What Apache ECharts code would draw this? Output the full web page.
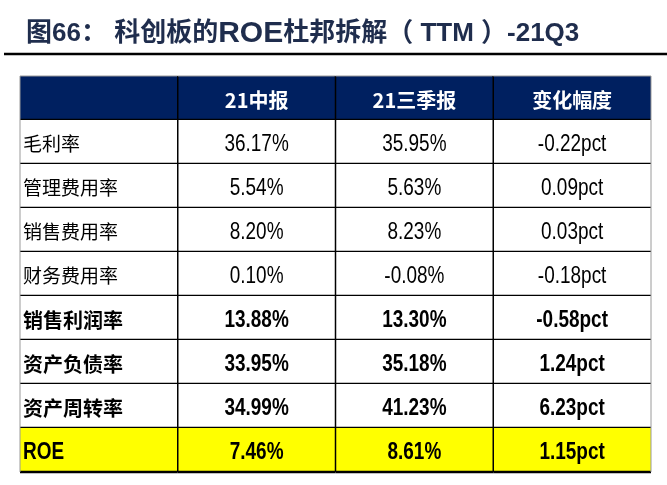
<!DOCTYPE html>
<html>
<head>
<meta charset="utf-8">
<script src="https://cdn.jsdelivr.net/npm/echarts@6/dist/echarts.min.js"></script>
<style>
  html, body { margin: 0; padding: 0; background: #fff; }
  #main { width: 667px; height: 485px; }
</style>
</head>
<body>
<div id="main"></div>
<script>
  // 表头、行名与各列数值
  const columns = ['', '21中报', '21三季报', '变化幅度'];
  const rowNames = ['毛利率', '管理费用率', '销售费用率', '财务费用率', '销售利润率', '资产负债率', '资产周转率', 'ROE'];
  const midReport = [36.17, 5.54, 8.20, 0.10, 13.88, 33.95, 34.99, 7.46];   // 21中报 (%)
  const q3Report = [35.95, 5.63, 8.23, -0.08, 13.30, 35.18, 41.23, 8.61];   // 21三季报 (%)
  const change = [-0.22, 0.09, 0.03, -0.18, -0.58, 1.24, 6.23, 1.15];       // 变化幅度 (pct)
  const boldRows = ['销售利润率', '资产负债率', '资产周转率', 'ROE'];
  const highlightRow = 'ROE';

  const rowCats = ['header'].concat(rowNames);
  const numFont = "'Liberation Sans', Arial, sans-serif";
  const cnFont = "'Noto Sans CJK SC', sans-serif";
  const narrow = 0.79; // 模拟 Arial Narrow
  const titleColor = '#1f2d4d';

  // 组装单元格: [列, 行, 文本]
  const cells = [];
  columns.forEach(function (name, c) {
    cells.push([c, 0, name]);
  });
  rowNames.forEach(function (name, i) {
    const r = i + 1;
    cells.push([0, r, name]);
    cells.push([1, r, midReport[i].toFixed(2) + '%']);
    cells.push([2, r, q3Report[i].toFixed(2) + '%']);
    cells.push([3, r, change[i].toFixed(2) + 'pct']);
  });

  function renderItem(params, api) {
    const c = api.value(0);
    const r = api.value(1);
    const text = cells[params.dataIndex][2];
    const p = api.coord([c, r]);
    const s = api.size([1, 1]);
    const x = p[0] - s[0] / 2, y = p[1] - s[1] / 2, w = s[0], h = s[1];
    const rowName = rowCats[r];
    const isHeader = r === 0;
    const isBold = boldRows.indexOf(rowName) >= 0;
    const isLatin = !isHeader && (c > 0 || /^[A-Za-z]+$/.test(text));

    let fill = '#ffffff';
    if (isHeader) fill = '#002060';
    else if (rowName === highlightRow) fill = '#ffff00';

    const children = [{
      type: 'rect',
      shape: { x: x, y: y, width: w, height: h },
      style: { fill: fill }
    }];

    let font;
    if (isHeader) font = "bold 20px " + cnFont;
    else if (isLatin) font = (isBold ? 'bold ' : '') + '24px ' + numFont;
    else font = isBold ? 'bold 20px ' + cnFont : '19px ' + cnFont;

    const leftAlign = c === 0 && !isHeader;
    children.push({
      type: 'text',
      x: leftAlign ? x + 3 : p[0],
      y: p[1] + 2,
      scaleX: isLatin ? narrow : 1,
      style: {
        text: text,
        x: 0,
        y: 0,
        align: leftAlign ? 'left' : 'center',
        verticalAlign: 'middle',
        fill: isHeader ? '#ffffff' : '#000000',
        font: font
      }
    });

    // 行底粗线
    children.push({
      type: 'line',
      shape: { x1: x, y1: y + h, x2: x + w, y2: y + h },
      style: { stroke: '#000000', lineWidth: 2.5 }
    });
    // 列分隔线
    children.push({
      type: 'line',
      shape: { x1: x, y1: y, x2: x, y2: y + h },
      style: { stroke: c === 0 ? '#9a9a9a' : '#000000', lineWidth: c === 0 ? 1 : 1.5 }
    });
    if (c === columns.length - 1) {
      children.push({
        type: 'line',
        shape: { x1: x + w, y1: y, x2: x + w, y2: y + h },
        style: { stroke: '#9a9a9a', lineWidth: 1 }
      });
    }
    if (isHeader) {
      children.push({
        type: 'line',
        shape: { x1: x, y1: y, x2: x + w, y2: y },
        style: { stroke: '#9a9a9a', lineWidth: 1 }
      });
    }
    return { type: 'group', children: children };
  }

  const chart = echarts.init(document.getElementById('main'), null, { renderer: 'canvas' });
  chart.setOption({
    animation: false,
    title: {
      text: '{a|图66： 科创板的}{b|ROE}{a|杜邦拆解（ TTM ）-21Q3}',
      left: 21,
      top: 14,
      textStyle: {
        rich: {
          a: {
            fontSize: 26,
            fontWeight: 'bold',
            color: titleColor,
            fontFamily: "'Liberation Sans', 'Noto Sans CJK SC', sans-serif"
          },
          b: {
            fontSize: 30,
            fontWeight: 'bold',
            color: titleColor,
            fontFamily: "'Liberation Sans', sans-serif"
          }
        }
      }
    },
    graphic: [{
      type: 'line',
      shape: { x1: 4, y1: 54, x2: 667, y2: 54 },
      style: { stroke: '#000000', lineWidth: 2.5 }
    }],
    grid: { left: 20, right: 16, top: 76, bottom: 13 },
    xAxis: {
      type: 'category',
      data: columns,
      show: false
    },
    yAxis: {
      type: 'category',
      data: rowCats,
      inverse: true,
      show: false
    },
    series: [{
      type: 'custom',
      renderItem: renderItem,
      data: cells.map(function (d) { return [d[0], d[1]]; })
    }]
  });
</script>
</body>
</html>
